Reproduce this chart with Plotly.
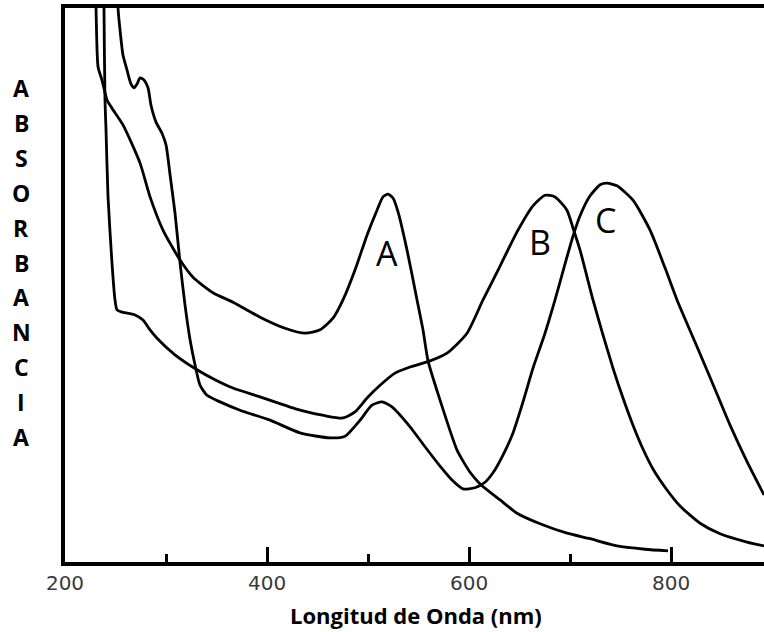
import plotly.graph_objects as go

# Wavelength (nm) and absorbance (arbitrary units)
wl_a = [229.7, 230.7, 232.7, 236.6, 241.6, 246.5, 257.4, 274.3, 284.2, 297.0, 313.9, 326.7,
        346.5, 366.3, 393.1, 417.8, 437.6, 452.5, 465.3, 475.2, 487.1, 499.0, 508.9, 514.8,
        519.8, 524.7, 529.7, 538.6, 548.5, 554.4, 559.4, 571.3, 588.1, 601.0, 610.9, 630.7,
        647.5, 670.3, 697.0, 719.8, 746.5, 774.2, 797.0]
abs_a = [1.051, 1.000, 0.894, 0.870, 0.834, 0.819, 0.789, 0.720, 0.659, 0.599, 0.545, 0.514,
         0.486, 0.469, 0.442, 0.422, 0.413, 0.419, 0.440, 0.473, 0.527, 0.590, 0.635, 0.659,
         0.664, 0.657, 0.632, 0.563, 0.473, 0.419, 0.363, 0.292, 0.202, 0.162, 0.141, 0.112,
         0.088, 0.069, 0.052, 0.042, 0.029, 0.023, 0.020]

wl_b = [238.6, 238.6, 239.6, 240.6, 242.6, 246.5, 249.5, 251.5, 256.4, 262.4, 269.3, 277.2,
        284.2, 291.1, 308.9, 330.7, 348.5, 366.3, 393.1, 432.7, 457.4, 475.2, 487.1, 499.0,
        511.9, 526.7, 541.6, 561.4, 578.2, 598.0, 613.8, 630.7, 647.5, 663.3, 675.2, 685.1,
        696.9, 702.9, 709.9, 722.7, 732.6, 742.5, 752.4, 762.3, 772.2, 782.1, 796.0, 808.9,
        828.7, 848.5, 875.2, 892.0]
abs_b = [1.051, 1.000, 0.834, 0.780, 0.659, 0.540, 0.473, 0.455, 0.451, 0.449, 0.446, 0.437,
         0.419, 0.404, 0.374, 0.347, 0.329, 0.314, 0.298, 0.274, 0.264, 0.260, 0.271, 0.296,
         0.319, 0.341, 0.352, 0.363, 0.377, 0.413, 0.473, 0.534, 0.596, 0.643, 0.662, 0.659,
         0.635, 0.603, 0.563, 0.473, 0.410, 0.350, 0.296, 0.247, 0.204, 0.168, 0.130, 0.101,
         0.070, 0.051, 0.036, 0.029]

wl_c = [252.5, 252.5, 254.5, 257.4, 261.4, 265.3, 268.3, 271.3, 274.3, 278.2, 282.2, 285.1,
        290.1, 296.0, 300.0, 304.0, 308.9, 313.9, 318.8, 323.8, 328.7, 333.7, 340.6, 353.5,
        373.3, 403.0, 432.7, 462.4, 477.2, 492.1, 503.9, 513.8, 523.7, 541.6, 556.4, 571.3,
        583.1, 594.0, 605.9, 615.8, 623.7, 633.6, 643.5, 653.4, 663.3, 675.2, 685.1, 695.0,
        702.9, 709.9, 719.8, 729.8, 736.6, 746.5, 762.3, 779.2, 794.0, 805.9, 823.7, 840.5,
        858.4, 875.2, 892.0]
abs_c = [1.051, 1.000, 0.960, 0.915, 0.888, 0.863, 0.856, 0.863, 0.874, 0.870, 0.856, 0.825,
         0.794, 0.774, 0.753, 0.699, 0.630, 0.540, 0.464, 0.401, 0.356, 0.319, 0.301, 0.289,
         0.274, 0.256, 0.233, 0.224, 0.227, 0.256, 0.283, 0.289, 0.280, 0.244, 0.208, 0.173,
         0.148, 0.132, 0.134, 0.144, 0.161, 0.193, 0.233, 0.289, 0.350, 0.413, 0.473, 0.538,
         0.588, 0.625, 0.661, 0.681, 0.684, 0.679, 0.653, 0.599, 0.531, 0.473, 0.397, 0.325,
         0.247, 0.181, 0.121]

series_names = ["A", "B", "C"]
label_pos_wl = [518.8, 670.3, 734.6]
label_pos_abs = [0.558, 0.578, 0.617]

x_tick_vals = [200, 400, 600, 800]
x_tick_text = ["200", "400", "600", "800"]
x_minor_vals = [300, 500, 700]
x_title = "Longitud de Onda (nm)"
y_title_letters = list("ABSORBANCIA")

fig = go.Figure()
for wl, ab, name in zip([wl_a, wl_b, wl_c], [abs_a, abs_b, abs_c], series_names):
    fig.add_trace(go.Scatter(x=wl, y=ab, mode="lines", name=name,
                             line=dict(color="black", width=2.8, shape="spline", smoothing=0.6),
                             showlegend=False, hoverinfo="skip"))

for name, lx, ly in zip(series_names, label_pos_wl, label_pos_abs):
    fig.add_annotation(x=lx, y=ly, text=name, showarrow=False,
                       font=dict(family="Open Sans", size=34, color="black"))

# vertical Y-axis title, one letter per line
top_py, step_py = 88, 34.9
for i, ch in enumerate(y_title_letters):
    py = top_py + i * step_py
    fig.add_annotation(xref="paper", yref="paper", x=(21 - 65) / 699, y=(562 - py) / 554,
                       text=f"<b>{ch}</b>", showarrow=False, xanchor="center", yanchor="middle",
                       font=dict(family="Open Sans", size=23, color="black"))

fig.add_annotation(xref="paper", yref="paper", x=(416 - 65) / 699, y=-(615 - 562) / 554,
                   text=f"<b>{x_title}</b>", showarrow=False, xanchor="center", yanchor="middle",
                   font=dict(family="Open Sans", size=22, color="black"))

fig.update_layout(
    width=764, height=632,
    margin=dict(l=65, r=0, t=8, b=70),
    plot_bgcolor="white", paper_bgcolor="white",
    xaxis=dict(range=[200, 892], showgrid=False, zeroline=False,
               showline=True, linecolor="black", linewidth=3.5, mirror=True,
               tickvals=x_tick_vals, ticktext=x_tick_text,
               ticks="inside", ticklen=15, tickwidth=3, tickcolor="black",
               tickfont=dict(family="DejaVu Sans", size=20, color="#3a3a3a"),
               minor=dict(tickvals=x_minor_vals, ticks="inside", ticklen=8,
                          tickwidth=3, tickcolor="black")),
    yaxis=dict(range=[0, 1], showgrid=False, zeroline=False, showticklabels=False,
               showline=True, linecolor="black", linewidth=3.5, ticks=""),
)

fig.write_html("out.html")
